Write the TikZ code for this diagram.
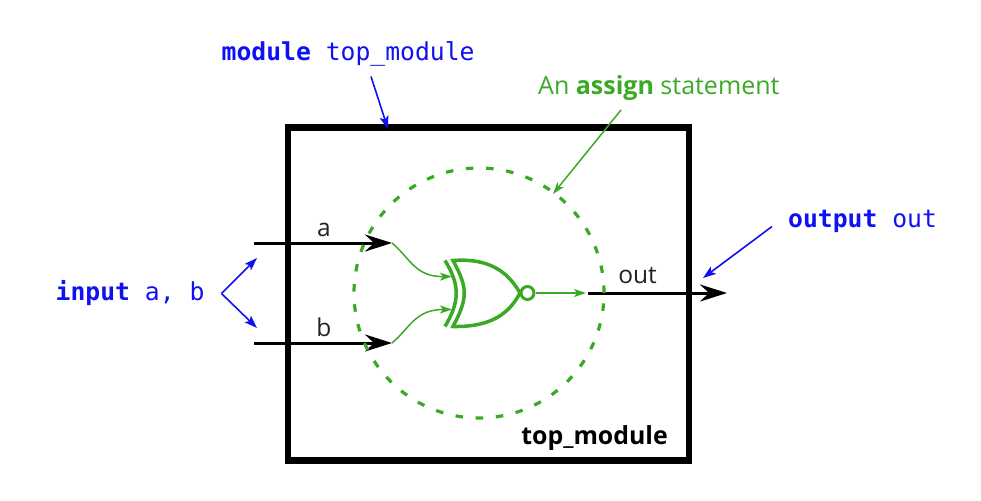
\documentclass[tikz,border=0pt]{standalone}
\usepackage{fontspec}
\setmainfont{Open Sans}
\setmonofont{DejaVu Sans Mono}
\usetikzlibrary{arrows.meta}
\definecolor{gategreen}{HTML}{3AAA24}
\definecolor{codeblue}{HTML}{1010F5}
\definecolor{inkdark}{HTML}{222222}
\tikzset{
  x=1pt,y=-1pt,
  code/.style={font=\ttfamily\fontsize{24.7}{28}\selectfont,text=codeblue,inner sep=0pt},
  plain/.style={font=\fontsize{24.5}{28}\selectfont,text=inkdark,inner sep=0pt},
  wirehead/.style={-{Stealth[length=27pt,width=17pt,inset=9pt]}},
  signal/.style={line width=3pt,black,wirehead},
  notehead/.style={-{Stealth[length=13pt,width=9pt,inset=3pt]}},
  note/.style={line width=1.6pt,codeblue,notehead},
  thin wire/.style={line width=1.5pt,gategreen,-{Stealth[length=12pt,width=8pt,inset=3pt]}},
  gateline/.style={line width=3.5pt,gategreen},
}
\begin{document}
\begin{tikzpicture}
\useasboundingbox (0,0) rectangle (981,500);
% coordinates
\coordinate (aS) at (254,243);
\coordinate (aE) at (392,243);
\coordinate (bS) at (254,343);
\coordinate (bE) at (392,343);
\coordinate (oS) at (588,293);
\coordinate (oE) at (727,293);
\coordinate (gA) at (452,276.5);
\coordinate (gB) at (452,309.5);
\coordinate (gO) at (536,293);
\coordinate (wO) at (586,293);
\coordinate (iA) at (221.5,293.5);
\coordinate (iU) at (257,258);
\coordinate (iD) at (257,328);
\coordinate (mS) at (371,76.5);
\coordinate (mE) at (388,129);
\coordinate (oNS) at (772,226.5);
\coordinate (oNE) at (703,278);
\coordinate (asS) at (621,110);
\coordinate (asE) at (553,194);
% module box
\node[draw=black,line width=6.5pt,minimum width=401pt,minimum height=333pt,inner sep=0pt] (box) at (488.5,294) {};
% signals
\draw[signal] (aS) -- (aE);
\draw[signal] (bS) -- (bE);
\draw[signal] (oS) -- (oE);
% assign circle
\node[circle,draw=gategreen,line width=3.2pt,dash pattern=on 7.5pt off 12.7pt,minimum size=250pt,inner sep=0pt] (ring) at (479,293) {};
% wires
\draw[thin wire] (aE) .. controls (410,258) and (415,277) .. (gA);
\draw[thin wire] (bE) .. controls (410,328) and (415,309.5) .. (gB);
\draw[thin wire] (gO) -- (wO);
% gate
\draw[gateline,line join=miter] (453,260.5) .. controls (468,288) and (468,298) .. (453,326.5)
  .. controls (485,327) and (507,318) .. (520,293)
  .. controls (507,270) and (487,258) .. cycle;
\draw[gateline] (445,260.5) .. controls (460,285) and (460,301) .. (445,326.5);
\node[circle,draw=gategreen,line width=3pt,minimum size=13pt,inner sep=0pt] (bubble) at (527.5,293) {};
% notes
\draw[note] (iA) -- (iU);
\draw[note] (iA) -- (iD);
\draw[note] (mS) -- (mE);
\draw[note] (oNS) -- (oNE);
\draw[thin wire] (asS) -- (asE);
% labels
\node[code,anchor=base west] (lm) at (221.5,60.5) {\textbf{module} top\symbol{95}module};
\node[code,anchor=base west] (li) at (55.5,300) {\textbf{input} a, b};
\node[code,anchor=base west] (lo) at (788,227) {\textbf{output} out};
\node[plain,text=gategreen,anchor=base west,font=\fontsize{25}{28}\selectfont] (la) at (538,95) {An \textbf{assign} statement};
\node[plain,anchor=base] (wa) at (324,236) {a};
\node[plain,anchor=base] (wb) at (324,336) {b};
\node[plain,anchor=base] (wo) at (637.5,283) {out};
\node[plain,text=black,anchor=base east,font=\fontsize{24.9}{28}\selectfont\bfseries] (tm) at (668,444) {top\symbol{95}module};
\end{tikzpicture}
\end{document}
